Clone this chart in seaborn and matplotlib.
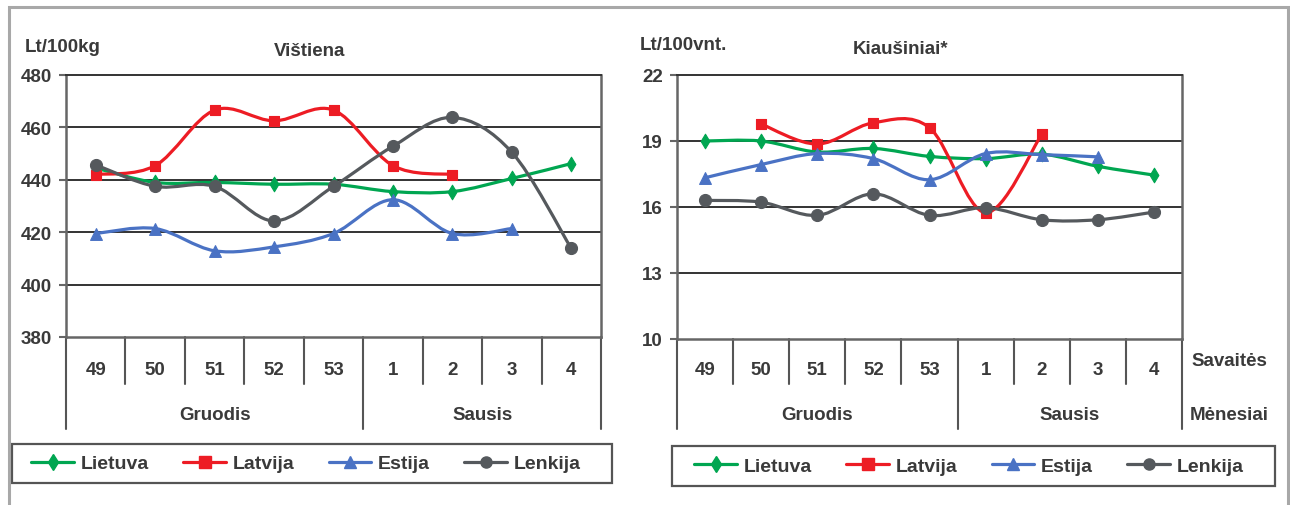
import numpy as np
import matplotlib
matplotlib.use("Agg")
import matplotlib.pyplot as plt
import seaborn as sns
from matplotlib.path import Path
from matplotlib.patches import PathPatch, Rectangle
from matplotlib.lines import Line2D
from matplotlib.transforms import blended_transform_factory

nan = np.nan

# ---------------- data ----------------
weeks = ["49", "50", "51", "52", "53", "1", "2", "3", "4"]
months = ["Gruodis", "Sausis"]
month_spans = [(0, 5), (5, 9)]
series = ["Lietuva", "Latvija", "Estija", "Lenkija"]

chicken_lietuva = [444.5, 439.0, 439.0, 438.3, 438.3, 435.5, 435.5, 440.5, 446.2]
chicken_latvija = [442.0, 445.4, 466.6, 462.5, 466.6, 445.4, 442.0, nan, nan]
chicken_estija = [419.5, 421.4, 412.9, 414.4, 419.5, 432.4, 419.5, 421.4, nan]
chicken_lenkija = [445.7, 437.5, 437.5, 424.3, 437.5, 452.8, 463.8, 450.5, 413.8]

eggs_lietuva = [19.0, 19.0, 18.5, 18.66, 18.3, 18.2, 18.4, 17.85, 17.45]
eggs_latvija = [nan, 19.77, 18.86, 19.83, 19.6, 15.74, 19.3, nan, nan]
eggs_estija = [17.33, 17.93, 18.43, 18.2, 17.24, 18.43, 18.38, 18.28, nan]
eggs_lenkija = [16.3, 16.22, 15.62, 16.6, 15.62, 15.97, 15.42, 15.42, 15.77]

chicken_ticks = [380, 400, 420, 440, 460, 480]
eggs_ticks = [10, 13, 16, 19, 22]

# ---------------- style ----------------
W, H = 1290, 506
sns.set_theme(style="white")
FONT = ["Liberation Sans Narrow", "Liberation Sans", "DejaVu Sans"]
plt.rcParams["font.family"] = FONT
plt.rcParams["font.weight"] = "bold"
TXT = "#3a3a3a"
colors = {"Lietuva": "#00a651", "Latvija": "#ed1c24", "Estija": "#4a72c4", "Lenkija": "#55595d"}
markers = {"Lietuva": "d", "Latvija": "s", "Estija": "^", "Lenkija": "o"}
msize = {"Lietuva": 55, "Latvija": 60, "Estija": 72, "Lenkija": 75}
FS = 13.5

fig = plt.figure(figsize=(W / 100, H / 100), dpi=100)
fig.patch.set_facecolor("white")


def rect(x0, y0, x1, y1):
    return [x0 / W, 1 - y1 / H, (x1 - x0) / W, (y1 - y0) / H]


def fy(y):
    return 1 - y / H


def smooth_path(xs, ys):
    pts = np.column_stack([xs, ys])
    n = len(pts)
    verts = [pts[0]]
    codes = [Path.MOVETO]
    for i in range(n - 1):
        p0 = pts[i - 1] if i > 0 else pts[i]
        p1 = pts[i]
        p2 = pts[i + 1]
        p3 = pts[i + 2] if i + 2 < n else pts[i + 1]
        c1 = p1 + (p2 - p0) / 6.0
        c2 = p2 - (p3 - p1) / 6.0
        verts += [c1, c2, p2]
        codes += [Path.CURVE4] * 3
    return Path(verts, codes)


def draw_panel(ax, data, ticks, ylabel, ylabel_xy, title, title_xy):
    ax.set_xlim(-0.5, len(weeks) - 0.5)
    ax.set_ylim(ticks[0], ticks[-1])
    ax.set_yticks(ticks)
    ax.set_yticklabels([str(t) for t in ticks])
    ax.set_xticks([])
    for t in ticks[1:-1]:
        ax.axhline(t, color="#333333", lw=1.4, zorder=1)
    for s in ax.spines.values():
        s.set_color("#666666")
        s.set_linewidth(1.8)
    ax.spines["top"].set_color("#333333")
    ax.spines["top"].set_linewidth(1.4)
    ax.tick_params(axis="y", length=5, width=1.5, color="#666666", pad=5,
                   labelsize=FS, labelcolor=TXT, left=True)
    for lab in ax.get_yticklabels():
        lab.set_fontweight("bold")

    x = np.arange(len(weeks))
    for k, name in enumerate(series):
        vals = np.array(data[name], dtype=float)
        ok = ~np.isnan(vals)
        xs, ys = x[ok], vals[ok]
        patch = PathPatch(smooth_path(xs.astype(float), ys), fill=False,
                          ec=colors[name], lw=2.3, zorder=3 + k, capstyle="round",
                          joinstyle="round")
        ax.add_patch(patch)
        sns.scatterplot(x=xs, y=ys, marker=markers[name], s=msize[name],
                        color=colors[name], edgecolor=colors[name], linewidth=0.8,
                        ax=ax, legend=False, zorder=3.5 + k, clip_on=False)

    # category axis (weeks / months)
    tr = blended_transform_factory(ax.transData, fig.transFigure)
    ybase = ax.get_position().y0
    for i in range(len(weeks) + 1):
        xv = i - 0.5
        long = i in (0, 5, 9)
        y_end = fy(430) if long else fy(385)
        ax.add_line(Line2D([xv, xv], [ybase, y_end], transform=tr, color="#555555",
                           lw=1.5, clip_on=False))
    for i, w in enumerate(weeks):
        ax.text(i, fy(371), w, transform=tr, ha="center", va="center",
                fontsize=FS, color=TXT, fontweight="bold")
    for m, (a, b) in zip(months, month_spans):
        ax.text((a + b - 1) / 2, fy(415), m, transform=tr, ha="center", va="center",
                fontsize=FS, color=TXT, fontweight="bold")

    fig.text(ylabel_xy[0] / W, fy(ylabel_xy[1]), ylabel, ha="left", va="center",
             fontsize=FS, color=TXT, fontweight="bold")
    fig.text(title_xy[0] / W, fy(title_xy[1]), title, ha="center", va="center",
             fontsize=FS, color=TXT, fontweight="bold")


ax1 = fig.add_axes(rect(66, 76, 601, 338))
ax2 = fig.add_axes(rect(677, 76, 1182, 340))

draw_panel(ax1, {"Lietuva": chicken_lietuva, "Latvija": chicken_latvija,
                 "Estija": chicken_estija, "Lenkija": chicken_lenkija},
           chicken_ticks, "Lt/100kg", (25, 47), "Vištiena", (310, 52))
draw_panel(ax2, {"Lietuva": eggs_lietuva, "Latvija": eggs_latvija,
                 "Estija": eggs_estija, "Lenkija": eggs_lenkija},
           eggs_ticks, "Lt/100vnt.", (640, 45), "Kiaušiniai*", (901, 50))

fig.text(1229 / W, fy(362), "Savaitės", ha="center", va="center", fontsize=FS,
         color=TXT, fontweight="bold")
fig.text(1229 / W, fy(416), "Mėnesiai", ha="center", va="center", fontsize=FS,
         color=TXT, fontweight="bold")

# legends
handles = [Line2D([], [], color=colors[n], lw=2.3, marker=markers[n],
                  markersize=8 if n != "Lietuva" else 8.5, markeredgecolor=colors[n])
           for n in series]
for ax, box, cen in [(ax1, (12, 445, 612, 484), (306, 464.5)),
                     (ax2, (672, 447, 1275, 487), (969, 467))]:
    fig.add_artist(Rectangle((box[0] / W, fy(box[3])), (box[2] - box[0]) / W,
                             (box[3] - box[1]) / H, transform=fig.transFigure,
                             fill=False, ec="#555555", lw=1.6))
    leg = ax.legend(handles, series, loc="center", ncol=4, frameon=False,
                    bbox_to_anchor=(cen[0] / W, fy(cen[1])), bbox_transform=fig.transFigure,
                    handlelength=2.2, handletextpad=0.35, columnspacing=1.75,
                    prop={"family": FONT, "weight": "bold", "size": FS + 0.5})
    for t in leg.get_texts():
        t.set_color(TXT)

# outer frame
fig.add_artist(Rectangle((9 / W, -0.1), (1288 - 9) / W, 1.1 - 8 / H,
                         transform=fig.transFigure, fill=False, ec="#a8a8a8", lw=2.2))

fig.savefig("out.png", dpi=100, facecolor="white")
